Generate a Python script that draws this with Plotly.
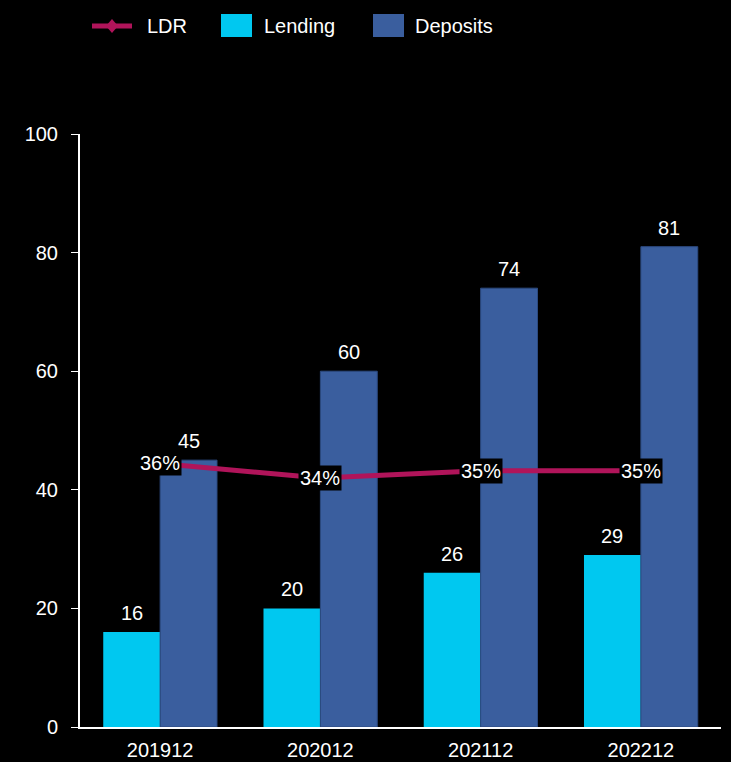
import plotly.graph_objects as go

# Year-end periods and balances
periods = ["201912", "202012", "202112", "202212"]
lending = [16, 20, 26, 29]
deposits = [45, 60, 74, 81]
ldr = [0.36, 0.34, 0.35, 0.35]

FONT = "Liberation Sans, Arial, sans-serif"
WHITE = "#ffffff"
C_LDR = "#b0145a"
C_LEND = "#00c8f0"
C_DEP = "#3a5e9e"

W, H = 731, 762
M_L, M_R, M_T, M_B = 80, 10, 134, 35
PW, PH = W - M_L - M_R, H - M_T - M_B


def px_x(px):
    return (px - M_L) / PW


def px_y(py):
    return (H - M_B - py) / PH


fig = go.Figure()

fig.add_trace(go.Scatter(
    x=periods, y=ldr, name="LDR", yaxis="y2",
    mode="lines+markers",
    line=dict(color=C_LDR, width=5),
    marker=dict(symbol="diamond", size=11, color=C_LDR),
))
fig.add_trace(go.Bar(
    x=periods, y=lending, name="Lending",
    marker=dict(color=C_LEND, line=dict(width=0)),
))
fig.add_trace(go.Bar(
    x=periods, y=deposits, name="Deposits",
    marker=dict(color=C_DEP, line=dict(color="#2c4a80", width=1)),
))

# Value labels above each bar (bars are offset a quarter category either side)
n = len(periods)
half = (1 - 0.29) / 4
for i in range(n):
    for dx, v in ((-half, lending[i]), (half, deposits[i])):
        fig.add_annotation(
            x=i + dx, y=v, xref="x", yref="y", text=str(v),
            showarrow=False, yanchor="bottom", yshift=6,
            font=dict(color=WHITE, size=20, family=FONT),
        )

# Ratio labels boxed on the line (category axis: position by index)
for i, r in enumerate(ldr):
    fig.add_annotation(
        x=i, y=r, xref="x", yref="y2", text=f"{round(r * 100)}%",
        showarrow=False, bgcolor="#000000", borderpad=1,
        font=dict(color=WHITE, size=20, family=FONT),
    )

# Legend row across the top: line swatch, then two square swatches
shapes = [
    dict(type="line", xref="paper", yref="paper",
         x0=px_x(92), x1=px_x(132), y0=px_y(26), y1=px_y(26),
         line=dict(color=C_LDR, width=5)),
    dict(type="path", xref="paper", yref="paper",
         path=(f"M {px_x(112)} {px_y(19)} L {px_x(118)} {px_y(26)} "
               f"L {px_x(112)} {px_y(33)} L {px_x(106)} {px_y(26)} Z"),
         fillcolor=C_LDR, line=dict(width=0)),
    dict(type="rect", xref="paper", yref="paper",
         x0=px_x(221), x1=px_x(252), y0=px_y(37), y1=px_y(14),
         fillcolor=C_LEND, line=dict(width=0)),
    dict(type="rect", xref="paper", yref="paper",
         x0=px_x(373), x1=px_x(404), y0=px_y(37), y1=px_y(14),
         fillcolor=C_DEP, line=dict(width=0)),
]
for label, x0 in [("LDR", 145), ("Lending", 262), ("Deposits", 413)]:
    fig.add_annotation(
        x=px_x(x0), y=px_y(26), xref="paper", yref="paper",
        xanchor="left", yanchor="middle", showarrow=False, text=label,
        font=dict(color=WHITE, size=20, family=FONT),
    )

fig.update_layout(
    width=W, height=H,
    paper_bgcolor="#000000", plot_bgcolor="#000000",
    margin=dict(l=M_L, r=M_R, t=M_T, b=M_B),
    font=dict(family=FONT, color=WHITE, size=20),
    barmode="group", bargap=0.29, bargroupgap=0,
    showlegend=False,
    shapes=shapes,
    xaxis=dict(
        type="category", range=[-0.5, n - 0.5], automargin=False,
        showline=True, linecolor=WHITE, linewidth=2,
        ticks="", showgrid=False, zeroline=False,
        ticklabelstandoff=4,
        tickfont=dict(size=20, color=WHITE, family=FONT),
    ),
    yaxis=dict(
        range=[0, 100], dtick=20, showline=True, linecolor=WHITE, linewidth=2,
        ticks="outside", ticklen=7, tickcolor=WHITE, tickwidth=1,
        ticklabelstandoff=9, automargin=False,
        showgrid=False, zeroline=False,
        tickfont=dict(size=20, color=WHITE, family=FONT),
    ),
    yaxis2=dict(
        range=[0, 0.81], overlaying="y", side="right", visible=False,
        showgrid=False, zeroline=False,
    ),
)

fig.write_html("out.html")
